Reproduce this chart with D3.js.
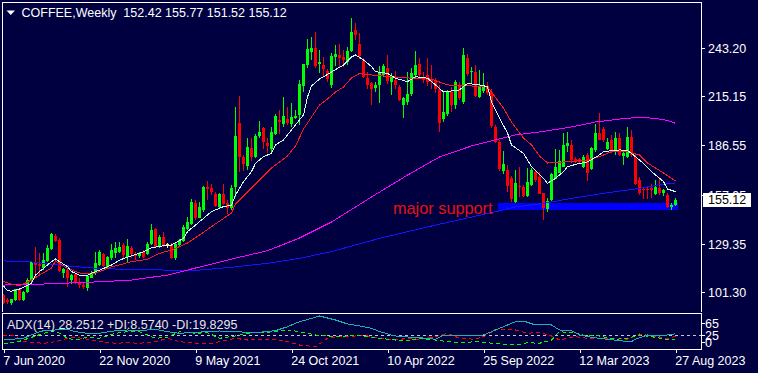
<!DOCTYPE html>
<html><head><meta charset="utf-8">
<script src="https://cdn.jsdelivr.net/npm/d3@7"></script>
<style>
html,body{margin:0;padding:0;background:#000040;overflow:hidden;}
svg{display:block;}
text{font-family:"Liberation Sans",Arial,sans-serif;}
</style></head><body>
<svg id="c" width="758" height="373"></svg>
<script>
// ---------- DATA ----------
const symbolTitle = "COFFEE,Weekly  152.42 155.77 151.52 155.12";
const adxTitle = "ADX(14) 28.2512 +DI:8.5740 -DI:19.8295";
const xTickIdx = [0,24,48,72,96,120,144,168];
const xTickLabels = ["7 Jun 2020","22 Nov 2020","9 May 2021","24 Oct 2021","10 Apr 2022","25 Sep 2022","12 Mar 2023","27 Aug 2023"];
const priceTicks = [243.20,215.15,186.55,157.95,129.35,101.30];
const adxTicks = [65,25,0];
const adxLevel = 25;
const lastPrice = 155.12;
const supportLabel = "major support";
const supportZone = {from:124, to:169, top:153.1, bottom:149.0};

const openP = [99.7,96.8,94.9,96.8,103.0,96.8,101.7,107.9,118.3,117.9,115.6,119.5,126.4,134.0,131.6,112.7,114.2,108.4,111.7,107.1,
105.5,104.0,110.0,112.3,117.1,123.5,116.2,121.0,123.9,124.9,128.8,122.0,126.8,123.3,122.0,124.9,123.3,129.1,138.0,127.8,
133.6,129.1,128.8,121.0,128.7,131.2,138.4,141.3,152.9,144.8,149.0,162.6,162.0,158.3,151.0,158.3,153.3,150.0,162.2,199.7,
180.0,174.8,185.2,180.0,191.9,196.4,187.7,184.8,193.1,201.2,198.7,201.8,199.3,202.6,204.1,220.6,233.2,240.3,242.8,233.6,
233.2,229.9,221.5,238.0,239.0,238.0,235.1,241.5,253.5,245.1,235.5,225.8,222.5,219.6,221.6,227.4,231.2,223.5,224.5,220.6,
209.6,211.5,216.1,227.4,233.7,226.4,227.4,224.5,224.1,219.2,201.8,204.5,217.7,209.6,221.6,211.5,237.4,229.0,229.3,214.8,
218.1,221.2,217.3,197.4,188.7,171.6,172.2,167.4,153.9,163.0,162.2,157.2,163.6,171.3,168.4,158.7,150.0,154.5,167.4,170.7,
174.2,185.8,186.8,178.4,178.4,174.2,181.0,172.8,183.9,193.9,195.8,184.8,189.7,182.9,190.6,180.0,180.0,191.6,180.0,166.5,
161.0,161.0,161.6,158.7,161.6,158.7,157.7,151.0,152.42];
const highP = [100.3,97.8,97.6,103.4,103.6,102.1,109.4,119.5,127.8,123.9,123.9,128.8,135.9,134.9,132.6,115.2,114.8,111.9,112.3,109.4,
106.5,111.3,113.6,124.9,125.8,123.9,122.6,129.1,130.7,130.7,130.1,132.2,128.4,124.9,124.5,125.8,130.7,140.9,138.8,134.5,
136.5,130.1,129.7,129.7,132.0,140.3,145.1,155.4,154.8,153.9,163.0,166.1,164.0,159.7,159.0,164.4,155.0,163.4,209.0,215.0,
181.0,191.0,190.6,193.3,200.7,197.4,190.6,197.4,204.5,207.0,214.8,209.0,211.0,207.0,224.2,233.9,248.2,249.2,252.3,241.6,
237.7,231.0,240.0,244.8,245.2,241.6,243.8,260.2,257.3,251.5,237.0,229.3,223.5,223.5,232.3,234.0,239.0,228.5,229.5,221.6,
214.8,229.3,231.2,241.4,237.0,229.3,237.0,233.0,225.4,221.6,217.7,218.8,220.6,224.5,223.1,242.8,239.6,231.9,233.2,230.0,
228.5,223.1,219.2,198.3,189.6,183.0,175.1,168.8,172.3,174.2,163.6,173.2,173.2,172.3,171.3,159.1,155.8,170.3,184.2,183.9,
193.9,194.5,189.7,180.0,179.0,181.0,181.9,185.8,198.9,205.5,197.4,190.6,192.5,194.5,193.5,183.9,197.0,195.5,181.9,168.4,
162.6,162.2,164.1,166.5,168.4,161.0,158.7,152.9,155.77];
const lowP = [94.5,94.7,93.9,96.2,96.0,96.2,100.7,106.5,109.4,111.3,114.2,119.1,125.8,130.7,113.3,109.4,104.6,105.9,105.9,103.6,
103.0,102.3,109.4,111.3,116.8,116.2,115.6,120.0,121.0,123.9,121.0,119.1,121.0,120.0,121.4,121.0,122.9,128.8,127.2,126.8,
127.8,126.8,120.6,120.0,128.0,130.7,137.4,140.3,143.2,144.2,148.1,154.8,157.7,150.6,150.0,151.9,146.6,149.0,156.6,171.3,
171.6,172.4,177.6,179.4,190.6,184.2,182.3,182.9,192.5,193.3,197.4,198.3,197.0,201.6,198.3,217.6,231.2,236.3,231.4,228.4,
226.0,223.1,220.0,232.3,231.2,232.0,233.2,240.6,247.7,236.6,225.6,219.0,210.0,217.7,211.0,226.4,222.1,215.8,219.0,212.0,
202.2,210.0,215.0,225.4,225.4,222.5,221.0,219.0,217.0,194.2,200.3,203.5,205.7,207.6,212.6,210.4,226.6,222.5,214.4,213.8,
217.0,216.0,196.4,187.7,171.6,170.0,159.5,153.5,153.3,156.8,156.4,156.4,163.0,165.5,158.3,143.2,148.1,153.9,166.8,170.3,
173.8,182.9,176.1,176.1,175.7,173.2,166.1,172.3,182.9,189.7,188.7,183.9,181.9,181.0,180.4,175.1,179.0,180.0,163.6,157.7,
155.2,155.2,155.8,157.7,157.7,157.2,150.0,149.1,151.52];
const closeP = [94.9,95.9,97.2,103.0,96.8,101.7,108.4,119.1,117.1,116.8,120.0,126.8,135.1,131.3,113.6,114.8,109.4,111.3,106.5,105.2,
104.2,110.8,112.7,118.1,124.9,116.6,121.8,125.8,126.8,127.8,122.9,128.4,123.3,122.0,123.9,122.0,129.1,137.4,127.8,133.6,
128.8,129.1,121.0,129.1,131.6,139.4,142.3,153.9,144.2,151.0,162.6,161.2,159.7,151.4,158.3,152.5,150.4,161.6,191.9,180.0,
176.1,185.8,180.0,191.9,194.5,188.1,186.2,194.5,203.6,199.9,203.5,199.3,203.2,203.8,222.1,233.5,242.4,242.8,232.2,234.8,
230.8,225.4,238.6,239.5,237.0,236.0,241.5,252.5,250.6,238.0,226.4,221.6,219.2,221.6,228.9,232.8,223.5,226.4,221.6,212.9,
213.8,216.3,228.3,233.2,227.4,224.5,223.1,223.5,219.2,199.3,206.1,217.3,209.9,223.1,213.8,239.0,227.9,229.7,215.2,220.6,
221.2,217.3,197.4,188.7,172.8,175.5,163.0,155.5,164.9,162.2,157.2,165.5,172.3,166.5,158.7,150.0,154.5,169.7,174.2,177.7,
186.8,187.7,178.1,177.1,176.5,180.0,170.3,184.8,193.5,190.0,189.3,188.7,182.9,190.6,180.9,181.9,191.6,180.9,164.5,159.1,
160.3,160.3,160.7,162.6,158.7,160.7,151.0,151.9,155.12];

// moving averages, read as [bar index, value]
const maFast = [[0,105.0],[1,102.2],[2,102.0],[4,103.2],[7,106.5],[8,111.3],[10,115.2],[12,119.1],[13,120.6],[14,119.1],[16,116.2],[17,113.3],[19,111.3],[21,111.3],[22,112.3],[24,114.2],[27,117.1],[29,120.0],[32,122.5],[34,123.9],[36,125.8],[37,127.2],[40,128.3],[42,128.7],[45,132.6],[46,136.5],[48,140.3],[50,144.2],[52,148.1],[55,151.0],[57,151.9],[58,157.7],[60,165.5],[62,171.3],[63,176.1],[65,180.0],[67,181.9],[68,186.8],[70,189.7],[72,195.5],[73,198.4],[75,204.2],[76,214.6],[77,221.0],[79,225.0],[82,229.1],[85,233.2],[87,237.8],[88,239.0],[90,236.1],[92,232.2],[93,229.3],[96,228.3],[98,225.5],[101,223.5],[103,226.4],[106,225.5],[108,221.6],[110,217.5],[112,218.1],[114,218.7],[116,222.5],[119,221.6],[121,220.6],[122,211.9],[124,202.2],[126,193.7],[127,186.8],[130,181.9],[132,174.2],[135,167.4],[136,164.5],[138,167.4],[140,171.3],[141,174.2],[144,176.1],[146,176.9],[149,181.0],[150,182.9],[154,183.9],[156,183.5],[157,181.9],[160,176.1],[162,171.3],[165,165.5],[166,161.2],[168,159.7]];
const maMid = [[0,107.6],[2,106.1],[4,105.0],[7,108.4],[9,111.3],[12,115.4],[13,119.5],[16,115.2],[19,112.5],[22,111.9],[24,113.3],[27,116.0],[32,119.1],[36,120.4],[39,123.9],[42,125.8],[46,129.9],[49,134.5],[52,139.4],[57,147.3],[58,152.5],[62,161.8],[67,173.4],[71,180.4],[73,186.2],[75,196.0],[77,203.0],[79,210.0],[81,213.4],[83,217.5],[85,220.4],[87,225.6],[89,228.3],[92,227.4],[97,226.4],[102,225.5],[107,225.0],[111,221.6],[117,221.0],[121,220.4],[122,217.5],[125,208.2],[127,200.1],[130,190.8],[132,186.8],[134,180.4],[136,176.3],[142,177.2],[146,178.0],[149,180.0],[152,182.9],[156,182.9],[159,181.0],[161,176.3],[163,173.4],[165,170.5],[168,165.9]];
const maSlow = [[0,105.5],[10,106.1],[24,107.4],[32,108.4],[41,111.3],[47,114.8],[57,120.6],[66,125.4],[74,132.8],[82,142.1],[86,147.9],[92,156.6],[101,169.3],[109,179.8],[117,186.2],[123,189.7],[128,192.6],[134,194.3],[142,197.2],[148,200.1],[155,202.1],[159,202.8],[163,202.2],[166,201.0],[168,199.3]];
const maLong = [[0,119.5],[7,118.9],[16,116.6],[24,115.1],[32,114.5],[41,114.2],[49,114.2],[57,115.8],[66,118.1],[74,121.0],[82,124.9],[94,132.6],[108,140.3],[125,149.1],[128,150.8],[135,152.9],[142,155.8],[150,158.7],[159,161.6],[165,164.1],[168,164.5]];

// ADX(14) panel, read as [bar index, value]
const adxLine = [[0,10.0],[2,10.0],[5,13.3],[8,29.9],[10,38.5],[13,40.8],[16,43.1],[18,35.2],[21,29.9],[24,29.9],[28,38.5],[31,40.8],[34,38.5],[38,43.1],[41,35.2],[44,29.9],[48,33.2],[51,35.2],[54,37.5],[58,35.2],[61,33.2],[64,33.2],[68,38.5],[71,51.7],[74,68.3],[78,82.9],[79,87.2],[83,74.0],[86,60.7],[89,54.1],[92,46.4],[94,36.0],[97,24.0],[99,18.6],[103,16.6],[108,10.0],[110,24.2],[114,24.2],[116,20.9],[120,24.2],[123,40.8],[128,68.3],[130,70.6],[133,57.4],[137,57.4],[139,40.8],[142,38.5],[144,24.2],[147,16.6],[151,10.0],[154,5.3],[157,2.0],[158,10.0],[161,24.2],[164,20.9],[168,28.25]];
const plusDI = [[0,-3.3],[3,-1.3],[5,7.6],[8,20.9],[10,29.9],[13,38.5],[16,13.3],[18,7.6],[21,16.6],[24,13.3],[28,29.9],[31,35.2],[34,35.2],[38,13.3],[41,16.6],[44,35.2],[48,29.9],[51,31.8],[54,13.3],[58,20.9],[61,29.9],[64,31.8],[68,35.2],[71,40.8],[74,35.2],[78,24.2],[81,20.9],[84,18.6],[88,24.2],[91,18.6],[94,13.3],[98,7.6],[101,5.3],[104,13.3],[108,7.6],[111,2.0],[114,-1.3],[118,2.0],[121,-1.3],[124,-5.6],[128,-9.0],[131,-1.3],[134,-3.3],[137,7.6],[139,35.2],[143,29.9],[146,20.9],[149,20.9],[153,10.0],[156,13.3],[159,24.2],[163,16.6],[166,7.6],[168,8.57]];
const minusDI = [[0,24.2],[3,20.9],[5,2.0],[8,-1.3],[10,-3.3],[13,2.0],[16,13.3],[18,16.6],[21,10.0],[24,2.0],[28,-3.3],[31,-1.3],[34,-3.3],[38,2.0],[41,13.3],[44,2.0],[48,-3.3],[51,-5.6],[54,2.0],[58,13.3],[61,7.6],[64,10.0],[68,7.6],[71,2.0],[74,-9.0],[78,-14.6],[81,13.3],[84,18.6],[88,20.9],[91,20.9],[94,13.3],[98,7.6],[101,13.3],[104,10.0],[108,18.6],[111,29.9],[114,13.3],[118,10.0],[121,24.2],[123,43.1],[128,40.8],[131,29.9],[134,33.2],[137,20.9],[139,7.6],[143,18.6],[146,13.3],[149,13.3],[153,13.3],[156,10.0],[159,27.5],[163,18.6],[166,13.3],[168,19.83]];

// ---------- DRAW ----------
const BG = "#000040", FG = "#ffffff";
const svg = d3.select("#c");
svg.append("rect").attr("width",758).attr("height",373).attr("fill",BG);

const n = closeP.length;
const x = d3.scaleLinear().domain([0, n-1]).range([3.5, 675.5]);
const y = d3.scaleLinear().domain([101.30, 243.20]).range([292.3, 47.7]);
const ya = d3.scaleLinear().domain([0, 65]).range([342.3, 322.7]);

const main = {l:2, t:2, r:701, b:311};
const sub = {t:313, b:349};

const defs = svg.append("defs");
defs.append("clipPath").attr("id","clipMain").append("rect")
  .attr("x",main.l+1).attr("y",main.t+1).attr("width",main.r-main.l-1).attr("height",main.b-main.t-1);
defs.append("clipPath").attr("id","clipSub").append("rect")
  .attr("x",main.l+1).attr("y",sub.t+1).attr("width",main.r-main.l-1).attr("height",sub.b-sub.t-1);

const gMain = svg.append("g").attr("clip-path","url(#clipMain)");

// support zone (background object)
gMain.append("rect")
  .attr("x", Math.floor(x(supportZone.from)) - 1).attr("width", Math.round(x(supportZone.to) - x(supportZone.from)))
  .attr("y", Math.round(y(supportZone.top))).attr("height", Math.round(y(supportZone.bottom) - y(supportZone.top)))
  .attr("fill","#0000ff").attr("shape-rendering","crispEdges");

// candles
const bars = d3.range(n).map(i => ({i, o:openP[i], h:highP[i], l:lowP[i], c:closeP[i]}));
const colorOf = d => d.c > d.o ? "#00ff00" : (d.c < d.o ? "#ff0000" : "#ffee88");
const cg = gMain.append("g").attr("shape-rendering","crispEdges");
cg.selectAll("line.w").data(bars).join("line")
  .attr("x1", d => Math.floor(x(d.i)) + 0.5).attr("x2", d => Math.floor(x(d.i)) + 0.5)
  .attr("y1", d => y(d.h)).attr("y2", d => y(d.l))
  .attr("stroke", colorOf).attr("stroke-width",1);
cg.selectAll("rect.b").data(bars).join("rect")
  .attr("x", d => Math.floor(x(d.i)) - 1).attr("width", 3)
  .attr("y", d => Math.round(y(Math.max(d.o,d.c))))
  .attr("height", d => Math.max(1, Math.round(Math.abs(y(d.o)-y(d.c)))))
  .attr("fill", colorOf);

// moving averages
const lineP = d3.line().x(d => x(d[0])).y(d => y(d[1]));
[[maLong,"#1414ff"],[maSlow,"#ff00ff"],[maMid,"#ff1a1a"],[maFast,"#c8fff0"]].forEach(([data,col]) => {
  gMain.append("path").attr("d", lineP(data)).attr("fill","none")
    .attr("stroke",col).attr("stroke-width",1).attr("shape-rendering","crispEdges");
});

// support label
svg.append("text").attr("x",393).attr("y",213.5).attr("fill","#e81010")
  .attr("font-size","16.3px").text(supportLabel);

// frames
const fr = svg.append("g").attr("stroke",FG).attr("fill","none").attr("shape-rendering","crispEdges");
fr.append("path").attr("d",`M${main.l+0.5},${main.b+0.5}V${main.t+0.5}H${main.r+0.5}V${main.b+0.5}`);
fr.append("rect").attr("x",main.l+0.5).attr("y",sub.t+0.5).attr("width",main.r-main.l).attr("height",sub.b-sub.t);

// price axis
const yAxis = d3.axisRight(y).tickValues(priceTicks).tickSize(3).tickFormat(d3.format(".2f"));
const ax = svg.append("g").attr("transform",`translate(${main.r+0.5},0)`).call(yAxis);
ax.select(".domain").remove();
ax.selectAll("line").attr("stroke",FG).attr("shape-rendering","crispEdges");
ax.selectAll("text").attr("fill",FG).attr("font-size","12.5px").attr("x",6.5).attr("dy","0.35em")
  .attr("font-family",'"Liberation Sans",Arial,sans-serif');

// last price label
const ly = y(lastPrice);
svg.append("rect").attr("x",703).attr("y",193).attr("width",48).attr("height",14).attr("fill","#ffffff");
svg.append("text").attr("x",708).attr("y",200).attr("dy","0.35em").attr("fill","#000000")
  .attr("font-size","12.5px").text(lastPrice.toFixed(2));

// title
svg.append("path").attr("d","M6.5,10.5H15L10.75,15Z").attr("fill",FG);
svg.append("text").attr("x",21.5).attr("y",17).attr("fill",FG).attr("font-size","12.5px")
  .attr("xml:space","preserve").style("white-space","pre").text(symbolTitle);

// ADX panel
const gSub = svg.append("g").attr("clip-path","url(#clipSub)");
gSub.append("line").attr("x1",main.l+1).attr("x2",main.r).attr("y1",Math.round(ya(adxLevel))+0.5).attr("y2",Math.round(ya(adxLevel))+0.5)
  .attr("stroke","#c8c8c8").attr("stroke-dasharray","3,3").attr("shape-rendering","crispEdges");
const lineA = d3.line().x(d => x(d[0])).y(d => ya(d[1]));
gSub.append("path").attr("d",lineA(minusDI)).attr("fill","none").attr("stroke","#ff0000").attr("stroke-dasharray","4,3").attr("shape-rendering","crispEdges");
gSub.append("path").attr("d",lineA(plusDI)).attr("fill","none").attr("stroke","#00ff00").attr("stroke-dasharray","4,3").attr("shape-rendering","crispEdges");
gSub.append("path").attr("d",lineA(adxLine)).attr("fill","none").attr("stroke","#20b2aa").attr("shape-rendering","crispEdges");
svg.append("text").attr("x",7).attr("y",328.5).attr("fill","#e6e6e6").attr("font-size","12.5px").text(adxTitle);

const aAxis = d3.axisRight(ya).tickValues(adxTicks).tickSize(3).tickFormat(d3.format("d"));
const aax = svg.append("g").attr("transform",`translate(${main.r+0.5},0)`).call(aAxis);
aax.select(".domain").remove();
aax.selectAll("line").attr("stroke",FG).attr("shape-rendering","crispEdges");
aax.selectAll("text").attr("fill",FG).attr("font-size","12.5px").attr("x",3.5).attr("dy","0.35em")
  .attr("font-family",'"Liberation Sans",Arial,sans-serif');

// time axis
const xAxis = d3.axisBottom(x).tickValues(xTickIdx).tickSize(3).tickFormat((d,i) => xTickLabels[i]);
const xa = svg.append("g").attr("transform",`translate(0,${sub.b+0.5})`).call(xAxis);
xa.select(".domain").remove();
xa.selectAll("line").attr("stroke",FG).attr("shape-rendering","crispEdges")
  .attr("transform", d => `translate(${Math.floor(x(d))+0.5 - x(d)},0)`);
xa.selectAll("text").attr("fill",FG).attr("font-size","12.5px").attr("text-anchor","start")
  .attr("x",-0.8).attr("y",15).attr("dy",0)
  .attr("font-family",'"Liberation Sans",Arial,sans-serif');
</script>
</body></html>
